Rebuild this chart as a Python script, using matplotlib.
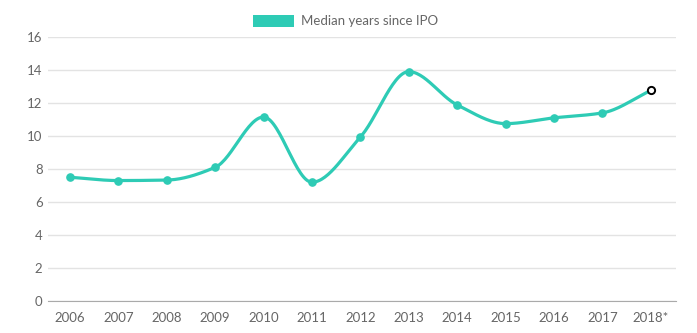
import numpy as np
import matplotlib
matplotlib.use("Agg")
import matplotlib.pyplot as plt
from matplotlib.patches import Patch

years = ["2006", "2007", "2008", "2009", "2010", "2011", "2012",
         "2013", "2014", "2015", "2016", "2017", "2018*"]
median_years = [7.5, 7.3, 7.33, 8.1, 11.15, 7.2, 9.94,
                13.9, 11.88, 10.75, 11.1, 11.4, 12.76]
y_ticks = [0, 2, 4, 6, 8, 10, 12, 14, 16]

TEAL = "#2ecbb5"
GREY = "#666666"


def monotone_curve(x, y, n=30):
    # monotone cubic (Fritsch-Carlson), same as d3 curveMonotoneX
    x = np.asarray(x, float)
    y = np.asarray(y, float)
    h = np.diff(x)
    d = np.diff(y) / h
    m = np.zeros_like(y)
    m[0], m[-1] = d[0], d[-1]
    for i in range(1, len(y) - 1):
        if d[i - 1] * d[i] <= 0:
            m[i] = 0
        else:
            w1 = 2 * h[i] + h[i - 1]
            w2 = h[i] + 2 * h[i - 1]
            m[i] = (w1 + w2) / (w1 / d[i - 1] + w2 / d[i])
    xs, ys = [], []
    for i in range(len(x) - 1):
        t = np.linspace(0, 1, n, endpoint=False)
        h00 = 2 * t**3 - 3 * t**2 + 1
        h10 = t**3 - 2 * t**2 + t
        h01 = -2 * t**3 + 3 * t**2
        h11 = t**3 - t**2
        xs.append(x[i] + t * h[i])
        ys.append(h00 * y[i] + h10 * h[i] * m[i] + h01 * y[i + 1] + h11 * h[i] * m[i + 1])
    xs.append([x[-1]])
    ys.append([y[-1]])
    return np.concatenate(xs), np.concatenate(ys)


plt.rcParams['font.family'] = ['Lato', 'DejaVu Sans']

fig = plt.figure(figsize=(6.97, 3.33), dpi=100)
ax = fig.add_axes([0.069, 0.096, 0.901, 0.793])

pos = np.arange(len(years))
cx, cy = monotone_curve(pos, median_years)
ax.plot(cx, cy, color=TEAL, lw=2.3, solid_capstyle='round', zorder=3)
ax.plot(pos[:-1], median_years[:-1], 'o', color=TEAL, ms=5.2, zorder=4)
ax.plot(pos[-1], median_years[-1], 'o', mfc='white', mec='black', mew=1.4, ms=5.2, zorder=5)

ax.set_xlim(-0.45, 12.52)
ax.set_ylim(0, 16)
ax.set_yticks(y_ticks)
ax.set_xticks(pos)
ax.set_xticklabels(years)
ax.grid(axis='y', color='#e3e3e3', lw=1)
ax.set_axisbelow(True)
for s in ['top', 'right', 'left']:
    ax.spines[s].set_visible(False)
ax.spines['bottom'].set_color('#aaaaaa')
ax.tick_params(length=0, colors=GREY, labelsize=9.5)
ax.tick_params(axis='y', pad=4)
ax.tick_params(axis='x', pad=8)

handle = Patch(facecolor=TEAL, edgecolor='none')
fig.legend([handle], ["Median years since IPO"], loc='center', bbox_to_anchor=(0.496, 0.937),
           frameon=False, fontsize=9.5, labelcolor=GREY, handlelength=3.1, handleheight=1.1,
           handletextpad=0.5)

fig.savefig("out.png", dpi=100)
